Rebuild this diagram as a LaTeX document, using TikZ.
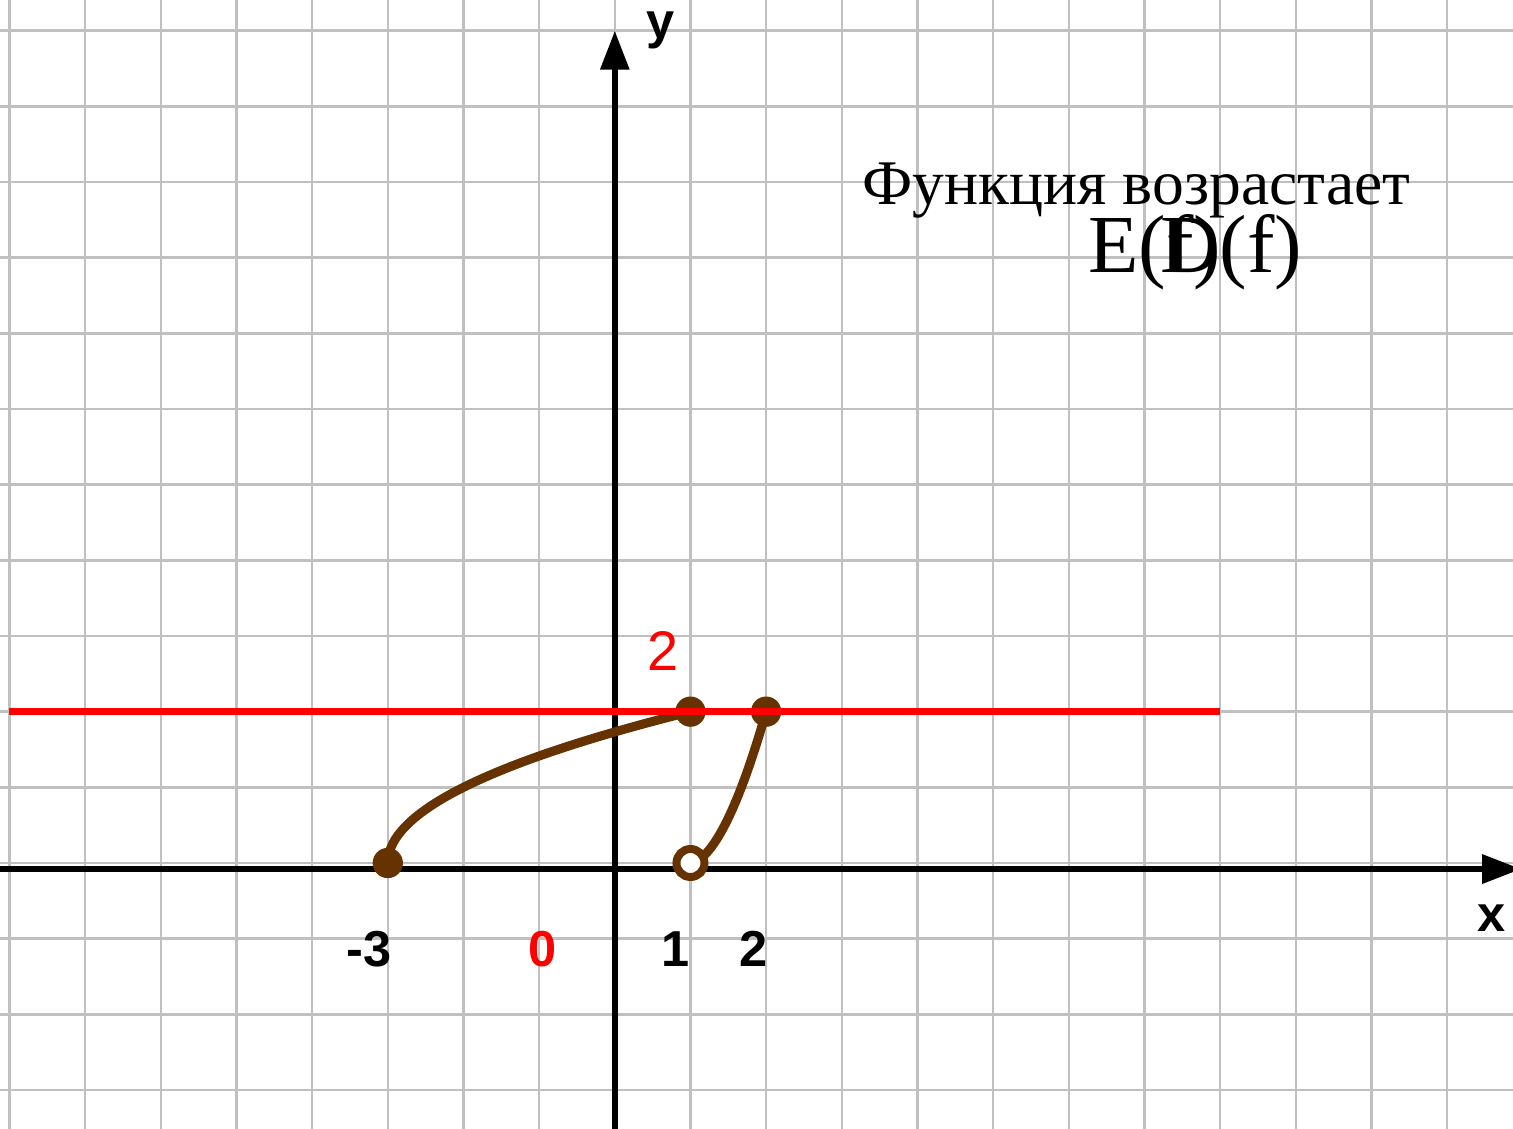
\documentclass[tikz,border=0pt]{standalone}
\usepackage{fontspec}
\setmainfont{Liberation Serif}
\newfontfamily\labelfont{Liberation Sans}
\usepackage{xcolor}
\usepackage{tikz}
\usetikzlibrary{arrows.meta, positioning}

\definecolor{gridgray}{HTML}{C0C0C0}
\definecolor{graphbrown}{HTML}{663300}

\begin{document}
\begin{tikzpicture}[
    gridline/.style={gridgray, line width=0.9pt},
    axis/.style={-{Triangle[length=14.7pt, width=10.5pt]}, line width=2.4pt, black},
    graph/.style={graphbrown, line width=3.4pt, line cap=round},
    levelline/.style={red, line width=2.8pt},
    tick/.style={font=\labelfont\bfseries\fontsize{19}{19}\selectfont, anchor=base, inner sep=0pt},
    dotfull/.style={circle, fill=graphbrown, minimum size=0.4cm, inner sep=0pt},
    dotopen/.style={circle, draw=graphbrown, fill=white, line width=3pt, minimum size=0.37cm, inner sep=0pt}
]
\useasboundingbox (-8.125,-3.515) rectangle (11.87,11.405);
\draw[gridline] (-8.125,-3.515) grid (11.87,11.405);

\draw[axis] (-8.125,-0.08) -- (11.98,-0.08);
\draw[axis] (0,-3.515) -- (0,11.0);

\draw[graph] plot[domain=-3:1, samples=120] (\x, {sqrt(max(0,\x+3))});
\draw[graph] plot[domain=1:2, samples=80] (\x, {2*(\x-1)*sqrt(\x-1)*sqrt(sqrt(\x-1))});

\node[dotfull] (a) at (-3,0) {};
\node[dotfull] (b) at (1,2) {};
\node[dotfull] (c) at (2,2) {};
\node[dotopen] (d) at (1,0) {};

\coordinate (lstart) at (-8,2);
\coordinate (lend) at (8,2);
\draw[levelline] (lstart) -- (lend);

\node[tick] (ylab) at (0.60,10.90) {y};
\node[tick] (xlab) at (11.59,-0.91) {x};
\node[tick] (tm3) at (-3.25,-1.374) {-3};
\node[tick, text=red] (t0) at (-0.95,-1.374) {0};
\node[tick] (t1) at (0.80,-1.374) {1};
\node[tick] (t2) at (1.83,-1.374) {2};
\node[anchor=base, inner sep=0pt, text=red, font=\labelfont\fontsize{21}{21}\selectfont] (lev) at (0.64,2.54) {2};

\node[anchor=base west, inner sep=0pt, font=\fontsize{23.9}{24}\selectfont] (note) at (3.27,8.70) {Функция возрастает};
\node[anchor=base west, inner sep=0pt, font=\fontsize{31}{31}\selectfont] (ef) at (6.25,7.81) {E(f)};
\node[anchor=base west, inner sep=0pt, font=\fontsize{31}{31}\selectfont] (df) at (7.20,7.81) {D(f)};
\end{tikzpicture}
\end{document}
